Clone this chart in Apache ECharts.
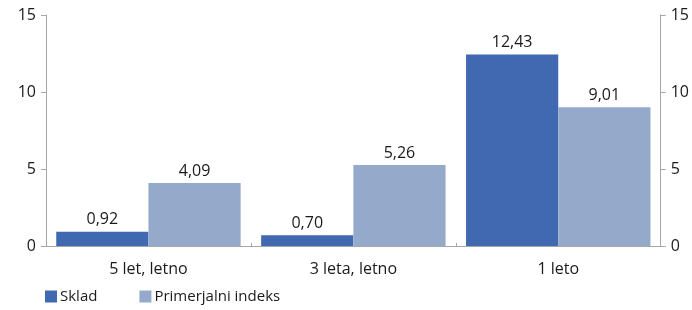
<!DOCTYPE html>
<html><head><meta charset="utf-8">
<script src="https://cdn.jsdelivr.net/npm/echarts@6/dist/echarts.min.js"></script>
<style>html,body{margin:0;padding:0;background:#fff}#c{width:692px;height:310px}</style>
</head><body><div id="c"></div>
<script>
const categories = ['5 let, letno', '3 leta, letno', '1 leto'];
const skladValues = [0.92, 0.70, 12.43];
const indeksValues = [4.09, 5.26, 9.01];
const seriesNames = ['Sklad', 'Primerjalni indeks'];
const yTicks = [0, 5, 10, 15];

const FONT = '"Open Sans", "Noto Sans", sans-serif';
const chart = echarts.init(document.getElementById('c'));
const labelCfg = {
  show: true, position: 'top', distance: 4,
  color: '#1a1a1a', fontSize: 16, fontFamily: FONT,
  formatter: p => p.value.toFixed(2).replace('.', ',')
};
const yAxisBase = {
  type: 'value', min: yTicks[0], max: yTicks[yTicks.length - 1], interval: 5,
  splitLine: { show: false },
  axisLine: { show: true, lineStyle: { color: '#a6a6a6', width: 1 } },
  axisTick: { show: true, length: 5, lineStyle: { color: '#a6a6a6' } },
  axisLabel: { color: '#1a1a1a', fontSize: 16, fontFamily: FONT, margin: 10 }
};
chart.setOption({
  animation: false,
  grid: { left: 46, right: 31, top: 15, bottom: 64, containLabel: false },
  legend: {
    left: 40, bottom: 1, itemWidth: 12, itemHeight: 12, itemGap: 42,
    icon: 'rect',
    textStyle: { color: '#1a1a1a', fontSize: 15, fontFamily: FONT, padding: [0, 0, 0, -2] },
    data: seriesNames
  },
  xAxis: {
    type: 'category', data: categories,
    axisLine: { lineStyle: { color: '#a6a6a6', width: 1 } },
    axisTick: { show: true, length: 3, inside: true, lineStyle: { color: '#a6a6a6' } },
    axisLabel: { color: '#1a1a1a', fontSize: 16, fontFamily: FONT, margin: 15 }
  },
  yAxis: [
    Object.assign({}, yAxisBase, { position: 'left' }),
    Object.assign({}, yAxisBase, { position: 'right' })
  ],
  series: [
    { name: seriesNames[0], type: 'bar', data: skladValues, barGap: '0%', barCategoryGap: '10%',
      itemStyle: { color: '#4169b1' }, label: labelCfg },
    { name: seriesNames[1], type: 'bar', data: indeksValues, barGap: '0%', barCategoryGap: '10%',
      itemStyle: { color: '#95aacb' }, label: labelCfg }
  ]
});
</script></body></html>
